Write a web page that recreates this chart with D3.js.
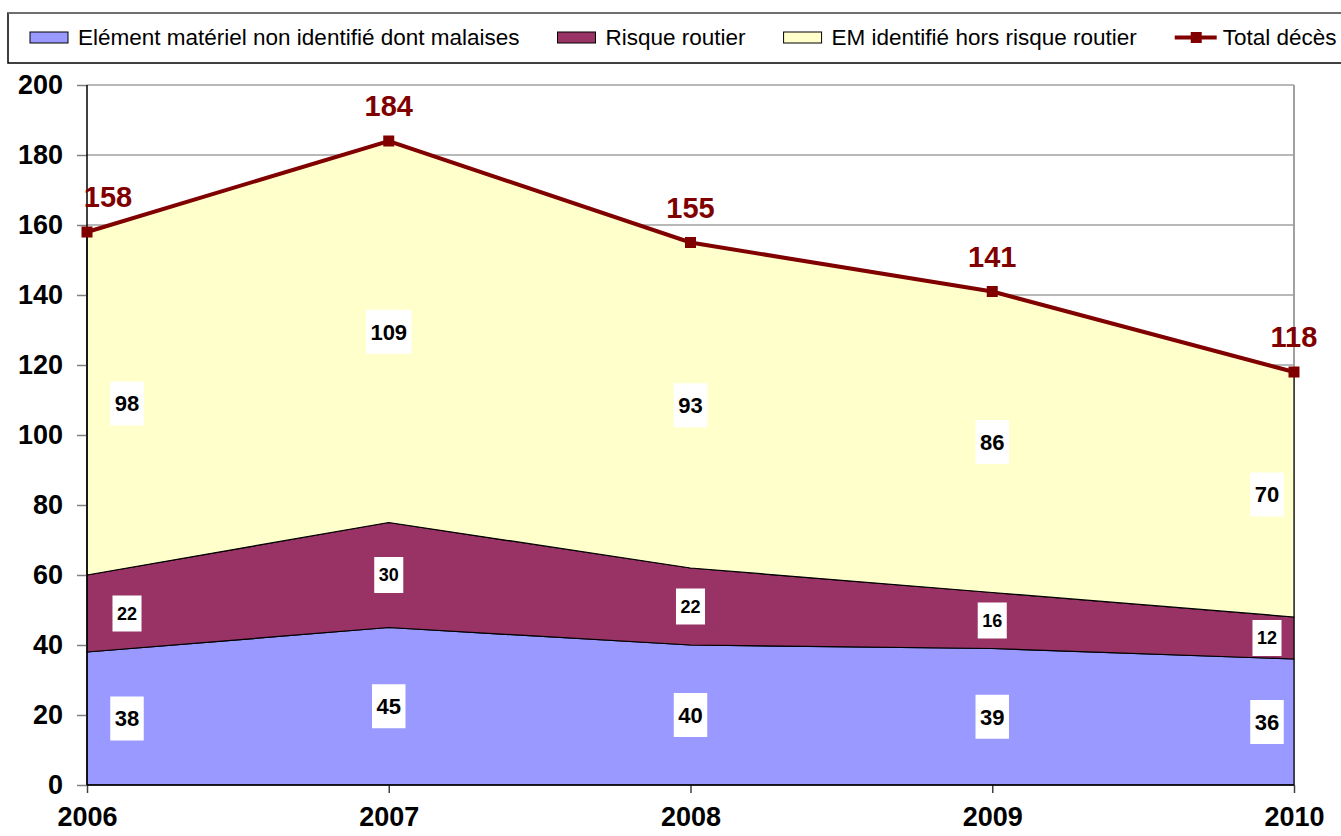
<!DOCTYPE html>
<html>
<head>
<meta charset="utf-8">
<script src="https://cdn.jsdelivr.net/npm/d3@7"></script>
<style>
  html, body { margin: 0; padding: 0; background: #fff; }
  svg { display: block; font-family: "Liberation Sans", Arial, sans-serif; }
</style>
</head>
<body>
<svg id="chart" width="1341" height="836"></svg>
<script>
// ---- Data ----
const years = ["2006", "2007", "2008", "2009", "2010"];
const emNonIdentifie = [38, 45, 40, 39, 36];
const risqueRoutier = [22, 30, 22, 16, 12];
const emIdentifie = [98, 109, 93, 86, 70];
const totalDeces = [158, 184, 155, 141, 118];
const yTickValues = [0, 20, 40, 60, 80, 100, 120, 140, 160, 180, 200];
const seriesNames = [
  "Elément matériel non identifié dont malaises",
  "Risque routier",
  "EM identifié hors risque routier",
  "Total décès"
];

// ---- Styles ----
const colors = ["#9999FF", "#993366", "#FFFFCC"];
const lineColor = "#800000";
const labelFont = [22, 18, 22];

const svg = d3.select("#chart");
const x = d3.scalePoint().domain(years).range([87, 1294]);
const y = d3.scaleLinear().domain([0, 200]).range([785, 85]);

const rows = years.map((yr, i) => ({
  year: yr, a: emNonIdentifie[i], b: risqueRoutier[i], c: emIdentifie[i], total: totalDeces[i]
}));
const keys = ["a", "b", "c"];
const stacked = d3.stack().keys(keys)(rows);

// Gridlines
svg.append("g").selectAll("line").data(yTickValues.filter(v => v > 0)).join("line")
  .attr("x1", 87).attr("x2", 1294)
  .attr("y1", d => y(d)).attr("y2", d => y(d))
  .attr("stroke", "#a0a0a0").attr("stroke-width", 1.5);
// right border of plot
svg.append("line").attr("x1", 1294).attr("x2", 1294).attr("y1", y(200)).attr("y2", y(0))
  .attr("stroke", "#a0a0a0").attr("stroke-width", 2);

// Areas
const area = d3.area()
  .x(d => x(d.data.year))
  .y0(d => y(d[0]))
  .y1(d => y(d[1]));
svg.append("g").selectAll("path").data(stacked).join("path")
  .attr("d", area)
  .attr("fill", (d, i) => colors[i])
  .attr("stroke", "#000").attr("stroke-width", 1.2).attr("stroke-linejoin", "round");

// Y axis
const yAxis = d3.axisLeft(y).tickValues(yTickValues).tickSize(10).tickPadding(14);
const gy = svg.append("g").attr("transform", "translate(87,0)").call(yAxis);
gy.select(".domain").remove();
gy.selectAll(".tick line").attr("stroke", "#808080").attr("stroke-width", 1.5);
gy.selectAll(".tick text").attr("font-size", 27).attr("font-weight", "bold")
  .attr("fill", "#000").attr("font-family", "Liberation Sans, Arial, sans-serif");
svg.append("line").attr("x1", 87).attr("x2", 87).attr("y1", y(200)).attr("y2", y(0))
  .attr("stroke", "#000").attr("stroke-width", 1.5);

// X axis
const xAxis = d3.axisBottom(x).tickSize(8).tickPadding(22);
const gx = svg.append("g").attr("transform", `translate(0,${y(0)})`).call(xAxis);
gx.select(".domain").remove();
gx.selectAll(".tick line").attr("stroke", "#404040").attr("stroke-width", 1.5);
gx.selectAll(".tick text").attr("font-size", 27).attr("font-weight", "bold")
  .attr("fill", "#000").attr("font-family", "Liberation Sans, Arial, sans-serif")
  .attr("dy", "0.71em").attr("y", 22);
svg.append("line").attr("x1", 87).attr("x2", 1294).attr("y1", y(0)).attr("y2", y(0))
  .attr("stroke", "#000").attr("stroke-width", 1.5);

// Segment labels
function labelX(i) {
  if (i === 0) return x(years[i]) + 40;
  if (i === years.length - 1) return x(years[i]) - 27;
  return x(years[i]);
}
const lbl = svg.append("g");
stacked.forEach((s, si) => {
  s.forEach((d, i) => {
    const cx = labelX(i);
    const cy = y((d[0] + d[1]) / 2);
    const fs = labelFont[si];
    const g = lbl.append("g");
    const t = g.append("text").attr("x", cx).attr("y", cy)
      .attr("text-anchor", "middle").attr("dy", "0.36em")
      .attr("font-size", fs).attr("font-weight", "bold").attr("fill", "#000")
      .text(d[1] - d[0]);
    const bb = t.node().getBBox();
    const w = bb.width + 9, h = fs * 2;
    g.insert("rect", "text").attr("x", cx - w / 2).attr("y", cy - h / 2)
      .attr("width", w).attr("height", h).attr("fill", "#fff");
  });
});

// Total line
const line = d3.line().x(d => x(d.year)).y(d => y(d.total));
svg.append("path").datum(rows).attr("d", line)
  .attr("fill", "none").attr("stroke", lineColor).attr("stroke-width", 4);
svg.append("g").selectAll("rect").data(rows).join("rect")
  .attr("x", d => x(d.year) - 5.5).attr("y", d => y(d.total) - 5.5)
  .attr("width", 11).attr("height", 11).attr("fill", lineColor);
svg.append("g").selectAll("text").data(rows).join("text")
  .attr("x", (d, i) => i === 0 ? x(d.year) + 21 : x(d.year))
  .attr("y", d => y(d.total) - 25)
  .attr("text-anchor", "middle")
  .attr("font-size", 29).attr("font-weight", "bold").attr("fill", lineColor)
  .text(d => d.total);

// Legend
const leg = svg.append("g");
leg.append("rect").attr("x", 8).attr("y", 13).attr("width", 1345).attr("height", 50)
  .attr("fill", "#fff").attr("stroke", "#000").attr("stroke-width", 1.5);
leg.append("line").attr("x1", 8).attr("x2", 1341).attr("y1", 13).attr("y2", 13)
  .attr("stroke", "#808080").attr("stroke-width", 1.5);
let lx = 30;
seriesNames.forEach((name, i) => {
  if (i < 3) {
    leg.append("rect").attr("x", lx).attr("y", 32).attr("width", 38).attr("height", 11)
      .attr("fill", colors[i]).attr("stroke", "#000").attr("stroke-width", 1);
  } else {
    leg.append("line").attr("x1", lx).attr("x2", lx + 42).attr("y1", 37.5).attr("y2", 37.5)
      .attr("stroke", lineColor).attr("stroke-width", 4);
    leg.append("rect").attr("x", lx + 16).attr("y", 32).attr("width", 11).attr("height", 11)
      .attr("fill", lineColor);
  }
  const t = leg.append("text").attr("x", lx + 48).attr("y", 45)
    .attr("font-size", 22.5).attr("fill", "#000").text(name);
  lx = lx + 48 + t.node().getComputedTextLength() + 38;
});
</script>
</body>
</html>
